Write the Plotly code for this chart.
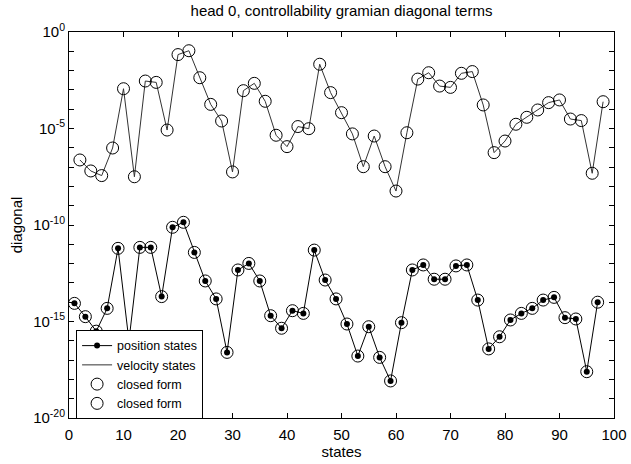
import plotly.graph_objects as go

title_text = "head 0, controllability gramian diagonal terms"
x_label = "states"
y_label = "diagonal"

pos_x = [1, 3, 5, 7, 9, 11, 13, 15, 17, 19, 21, 23, 25, 27, 29, 31, 33, 35, 37, 39,
         41, 43, 45, 47, 49, 51, 53, 55, 57, 59, 61, 63, 65, 67, 69, 71, 73, 75, 77, 79,
         81, 83, 85, 87, 89, 91, 93, 95, 97]
pos_vals = [8.7e-15, 1.78e-15, 3.16e-16, 4.79e-15, 6.17e-12, 1.0e-16, 6.92e-12, 6.92e-12,
            1.95e-14, 7.59e-11, 1.38e-10, 3.80e-12, 1.26e-13, 1.48e-14, 2.51e-17, 4.68e-13,
            1.02e-12, 1.26e-13, 2.0e-15, 4.47e-16, 3.63e-15, 2.63e-15, 5.01e-12, 1.41e-13,
            1.48e-14, 7.41e-16, 1.62e-17, 5.37e-16, 1.38e-17, 8.32e-19, 8.71e-16, 4.68e-13,
            8.51e-13, 1.55e-13, 1.55e-13, 7.59e-13, 8.51e-13, 1.29e-14, 3.80e-17, 1.62e-16,
            1.20e-15, 2.63e-15, 4.79e-15, 1.29e-14, 1.78e-14, 1.58e-15, 1.35e-15, 2.51e-18,
            1.0e-14]

vel_x = [2, 4, 6, 8, 10, 12, 14, 16, 18, 20, 22, 24, 26, 28, 30, 32, 34, 36, 38, 40,
         42, 44, 46, 48, 50, 52, 54, 56, 58, 60, 62, 64, 66, 68, 70, 72, 74, 76, 78, 80,
         82, 84, 86, 88, 90, 92, 94, 96, 98]
vel_vals = [2.34e-7, 6.31e-8, 3.63e-8, 9.77e-7, 1.15e-3, 3.16e-8, 2.88e-3, 2.45e-3,
            8.32e-6, 6.76e-2, 1.07e-1, 4.27e-3, 1.78e-4, 2.45e-5, 5.62e-8, 9.12e-4,
            2.19e-3, 2.57e-4, 4.47e-6, 1.15e-6, 1.26e-5, 9.77e-6, 2.14e-2, 7.24e-4,
            6.61e-5, 5.25e-6, 1.05e-7, 4.07e-6, 1.05e-7, 5.75e-9, 6.03e-6, 3.63e-3,
            7.76e-3, 1.58e-3, 1.35e-3, 7.24e-3, 8.91e-3, 1.66e-4, 5.62e-7, 2.24e-6,
            1.66e-5, 3.80e-5, 9.12e-5, 2.19e-4, 3.02e-4, 3.09e-5, 2.57e-5, 4.79e-8,
            2.45e-4]

x_ticks = [0, 10, 20, 30, 40, 50, 60, 70, 80, 90, 100]
y_labeled = [0, -5, -10, -15, -20]
y_minor = [-1, -2, -3, -4, -6, -7, -8, -9, -11, -12, -13, -14, -16, -17, -18, -19]

FONT = "Liberation Sans, Arial, sans-serif"

fig = go.Figure()
fig.add_trace(go.Scatter(x=pos_x, y=pos_vals, mode="lines+markers", name="position states",
                         line=dict(color="black", width=1),
                         marker=dict(symbol="circle", size=6, color="black")))
fig.add_trace(go.Scatter(x=vel_x, y=vel_vals, mode="lines", name="velocity states",
                         line=dict(color="#333333", width=1)))
fig.add_trace(go.Scatter(x=pos_x, y=pos_vals, mode="markers", name="closed form",
                         marker=dict(symbol="circle-open", size=12, color="black",
                                     line=dict(width=1, color="black"))))
fig.add_trace(go.Scatter(x=vel_x, y=vel_vals, mode="markers", name="closed form",
                         marker=dict(symbol="circle-open", size=12, color="black",
                                     line=dict(width=1, color="black"))))

tickvals = [10.0 ** d for d in y_labeled]
ticktext = ["10<sup>%d</sup>" % d for d in y_labeled]
minorvals = [10.0 ** d for d in y_minor]

fig.update_layout(
    width=631, height=464,
    margin=dict(l=69, r=17, t=32, b=46),
    paper_bgcolor="white", plot_bgcolor="white",
    font=dict(family=FONT, size=15, color="black"),
    title=dict(text=title_text, x=(69 + 614) / 2 / 631, xanchor="center",
               y=1 - 11 / 464, yanchor="middle", yref="container",
               font=dict(size=15, family=FONT)),
    showlegend=True,
    legend=dict(x=0.013, y=0.228, xanchor="left", yanchor="top",
                bgcolor="white", bordercolor="black", borderwidth=1,
                font=dict(size=12.5, family=FONT), tracegroupgap=0,
                itemwidth=30),
    xaxis=dict(range=[0, 100], tickvals=x_ticks, ticks="inside", ticklen=5,
               tickcolor="black", showline=True, linecolor="black", linewidth=1,
               mirror="ticks", showgrid=False, zeroline=False, automargin=False,
               ticklabelstandoff=3,
               title=dict(text=x_label, standoff=4, font=dict(size=15)),
               tickfont=dict(size=15)),
    yaxis=dict(type="log", range=[-20, 0], tickvals=tickvals, ticktext=ticktext,
               ticks="inside", ticklen=5, tickcolor="black", showline=True,
               linecolor="black", linewidth=1, mirror="ticks", showgrid=False,
               zeroline=False, automargin=False,
               title=dict(text=y_label, standoff=6, font=dict(size=15)),
               tickfont=dict(size=15),
               minor=dict(tickvals=minorvals, ticks="inside", ticklen=5,
                          tickcolor="black", showgrid=False)),
)

fig.write_html("out.html", config={"displayModeBar": False},
               post_script="document.body.style.margin='0px';")
